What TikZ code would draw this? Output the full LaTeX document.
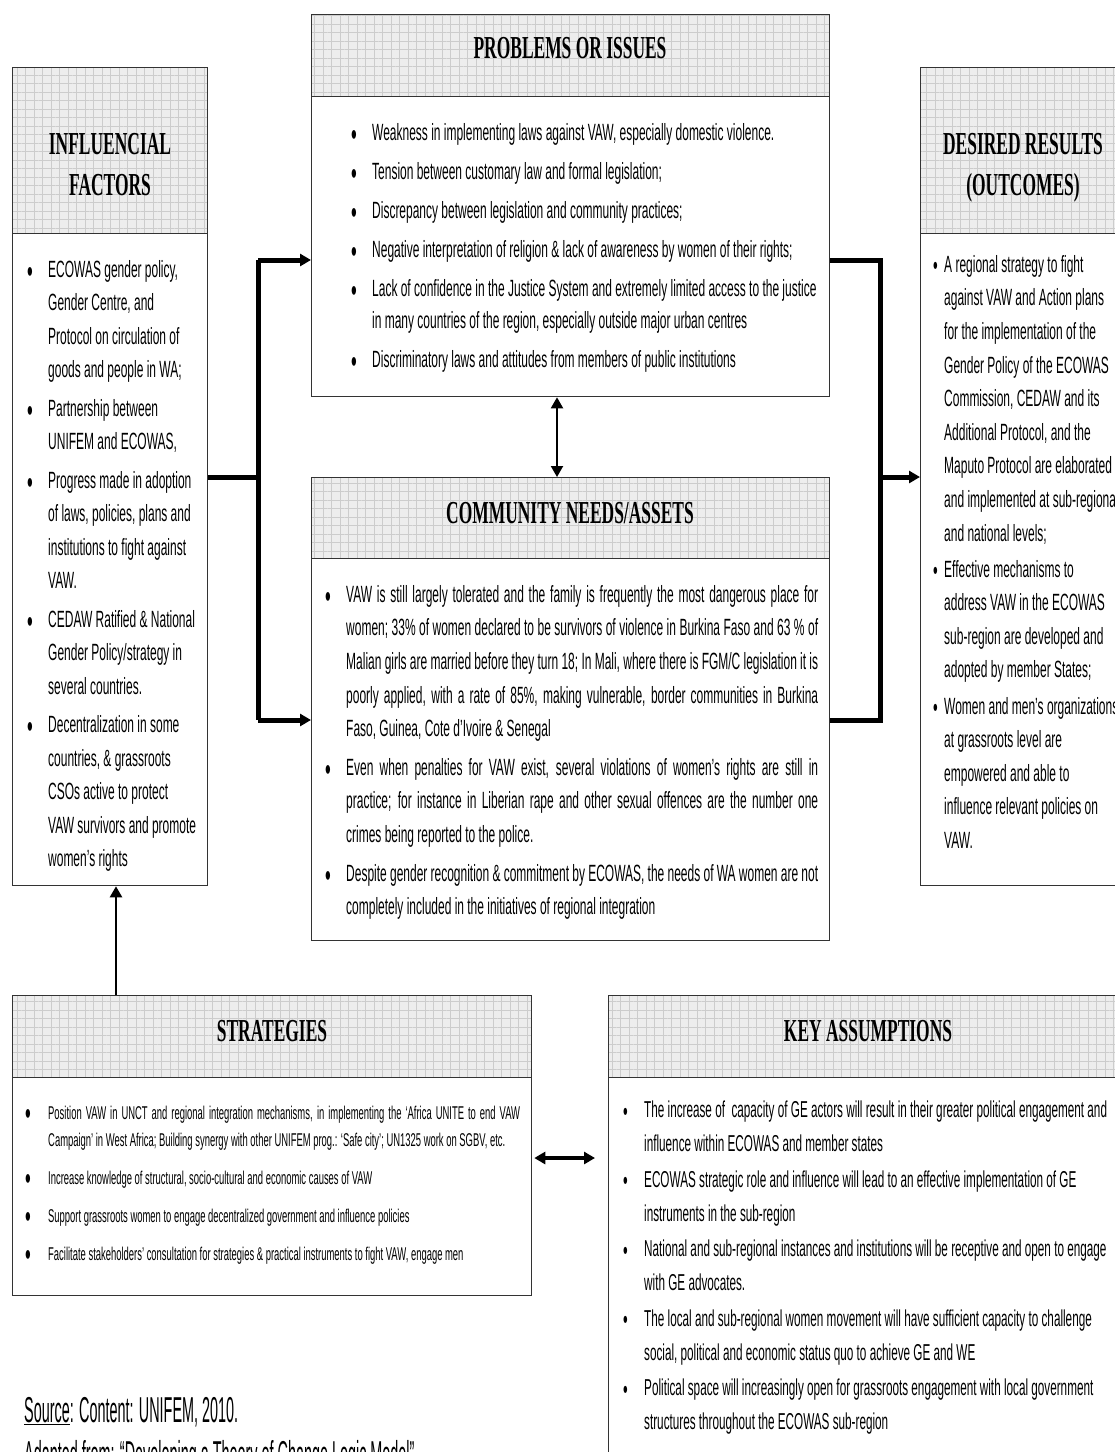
\documentclass[tikz,border=0pt]{standalone}
\usepackage{fontspec}
\usetikzlibrary{arrows.meta,patterns.meta}
\newfontfamily\bodyfont[FakeStretch=0.51]{Liberation Sans}
\newfontfamily\srcfont[FakeStretch=0.4]{Liberation Sans}
\newfontfamily\headfont[FakeStretch=0.545]{Liberation Serif}
\newcommand{\bl}{\raisebox{-5pt}{\fontsize{32}{0}\selectfont\textbullet}}
\newcommand{\sbl}{\raisebox{-2.5pt}{\fontsize{26}{0}\selectfont\textbullet}}
\newcommand{\jl}[1]{\makebox[472pt][s]{#1}}
\tikzset{
  head/.style={draw=black!80, line width=1.3pt, anchor=north west, inner sep=0pt,
    preaction={fill=gray!14}, pattern={Hatch[angle=0,distance=8.5pt,line width=0.5pt]},
    pattern color=gray!40},
  body/.style={draw=black!80, line width=1.3pt, anchor=north west, inner sep=0pt, fill=white},
  title/.style={align=center, inner sep=0pt, font=\headfont\bfseries\fontsize{32}{41}\selectfont},
  txt/.style={anchor=north west, inner sep=0pt, align=left},
  link/.style={line width=5pt},
}
\begin{document}
\begin{tikzpicture}[x=1pt, y=-1pt, >={Triangle[length=11pt,width=12pt]}, line join=miter]
	\useasboundingbox (0,0) rectangle (1115,1452);
	\clip (0,0) rectangle (1115,1452);
	% boxes: header + body
	\node[head, minimum width=195, minimum height=166] (hInf) at (12,67) {};
	\node[body, minimum width=195, minimum height=652] (bInf) at (12,233) {};
	\node[head, minimum width=518, minimum height=82] (hProb) at (311,14) {};
	\node[body, minimum width=518, minimum height=300] (bProb) at (311,96) {};
	\node[head, minimum width=210, minimum height=166] (hRes) at (920,67) {};
	\node[body, minimum width=210, minimum height=652] (bRes) at (920,233) {};
	\node[head, minimum width=518, minimum height=81] (hCom) at (311,477) {};
	\node[body, minimum width=518, minimum height=382] (bCom) at (311,558) {};
	\node[head, minimum width=519, minimum height=82] (hStr) at (12,995) {};
	\node[body, minimum width=519, minimum height=218] (bStr) at (12,1077) {};
	\node[head, minimum width=520, minimum height=82] (hKey) at (608,995) {};
	\node[body, minimum width=520, minimum height=420] (bKey) at (608,1077) {};
	% titles
	\node[title] (tInf) at (110,165) {INFLUENCIAL\\FACTORS};
	\node[title] (tProb) at (570,48) {PROBLEMS OR ISSUES};
	\node[title] (tRes) at (1023,168) {DESIRED RESULTS\\(OUTCOMES)};
	\node[title] (tCom) at (570,513) {COMMUNITY NEEDS/ASSETS};
	\node[title] (tStr) at (272,1031) {STRATEGIES};
	\node[title] (tKey) at (868,1031) {KEY ASSUMPTIONS};
	% texts
	\node[txt, font=\bodyfont\fontsize{23.5}{33.5}\selectfont] (xInf) at (27,253.5) {%
		\begin{tabular}{@{}p{21pt}@{}l@{}}
		\bl & ECOWAS gender policy,\\ & Gender Centre, and\\ & Protocol on circulation of\\ & goods and people in WA;\\[5pt]
		\bl & Partnership between\\ & UNIFEM and ECOWAS,\\[5pt]
		\bl & Progress made in adoption\\ & of laws, policies, plans and\\ & institutions to fight against\\ & VAW.\\[5pt]
		\bl & CEDAW Ratified \& National\\ & Gender Policy/strategy in\\ & several countries.\\[5pt]
		\bl & Decentralization in some\\ & countries, \& grassroots\\ & CSOs active to protect\\ & VAW survivors and promote\\ & women’s rights
		\end{tabular}};
	\node[txt, font=\bodyfont\fontsize{23.5}{32}\selectfont] (xProb) at (351,117.5) {%
		\begin{tabular}{@{}p{21pt}@{}l@{}}
		\bl & Weakness in implementing laws against VAW, especially domestic violence.\\[7pt]
		\bl & Tension between customary law and formal legislation;\\[7pt]
		\bl & Discrepancy between legislation and community practices;\\[7pt]
		\bl & Negative interpretation of religion \& lack of awareness by women of their rights;\\[7pt]
		\bl & Lack of confidence in the Justice System and extremely limited access to the justice\\ & in many countries of the region, especially outside major urban centres\\[7pt]
		\bl & Discriminatory laws and attitudes from members of public institutions
		\end{tabular}};
	\node[txt, font=\bodyfont\fontsize{23.5}{33.6}\selectfont] (xRes) at (933,248.5) {%
		\begin{tabular}{@{}p{11pt}@{}l@{}}
		\sbl & A regional strategy to fight\\ & against VAW and Action plans\\ & for the implementation of the\\ & Gender Policy of the ECOWAS\\ & Commission, CEDAW and its\\ & Additional Protocol, and the\\ & Maputo Protocol are elaborated\\ & and implemented at sub-regional\\ & and national levels;\\[2.5pt]
		\sbl & Effective mechanisms to\\ & address VAW in the ECOWAS\\ & sub-region are developed and\\ & adopted by member States;\\[2.5pt]
		\sbl & Women and men’s organizations\\ & at grassroots level are\\ & empowered and able to\\ & influence relevant policies on\\ & VAW.
		\end{tabular}};
	\node[txt, font=\bodyfont\fontsize{23.5}{33.6}\selectfont] (xCom) at (325,578.5) {%
		\begin{tabular}{@{}p{21pt}@{}l@{}}
		\bl & \jl{VAW is still largely tolerated and the family is frequently the most dangerous place for}\\
		    & \jl{women; 33\% of women declared to be survivors of violence in Burkina Faso and 63 \% of}\\
		    & \jl{Malian girls are married before they turn 18; In Mali, where there is FGM/C legislation it is}\\
		    & \jl{poorly applied, with a rate of 85\%, making vulnerable, border communities in Burkina}\\
		    & Faso, Guinea, Cote d’Ivoire \& Senegal\\[5pt]
		\bl & \jl{Even when penalties for VAW exist, several violations of women’s rights are still in}\\
		    & \jl{practice; for instance in Liberian rape and other sexual offences are the number one}\\
		    & crimes being reported to the police.\\[5pt]
		\bl & \jl{Despite gender recognition \& commitment by ECOWAS, the needs of WA women are not}\\
		    & completely included in the initiatives of regional integration
		\end{tabular}};
	\node[txt, font=\bodyfont\fontsize{18.5}{27}\selectfont] (xStr) at (25,1100.5) {%
		\begin{tabular}{@{}p{23pt}@{}l@{}}
		\bl & \makebox[472pt][s]{Position VAW in UNCT and regional integration mechanisms, in implementing the ‘Africa UNITE to end VAW}\\
		    & Campaign’ in West Africa; Building synergy with other UNIFEM prog.: ‘Safe city’; UN1325 work on SGBV, etc.\\[11pt]
		\bl & Increase knowledge of structural, socio-cultural and economic causes of VAW\\[11pt]
		\bl & Support grassroots women to engage decentralized government and influence policies\\[11pt]
		\bl & Facilitate stakeholders’ consultation for strategies \& practical instruments to fight VAW, engage men
		\end{tabular}};
	\node[txt, font=\bodyfont\fontsize{23}{34}\selectfont] (xKey) at (623,1093.5) {%
		\begin{tabular}{@{}p{21pt}@{}l@{}}
		\sbl & The increase of\ \ capacity of GE actors will result in their greater political engagement and\\ & influence within ECOWAS and member states\\[1.5pt]
		\sbl & ECOWAS strategic role and influence will lead to an effective implementation of GE\\ & instruments in the sub-region\\[1.5pt]
		\sbl & National and sub-regional instances and institutions will be receptive and open to engage\\ & with GE advocates.\\[1.5pt]
		\sbl & The local and sub-regional women movement will have sufficient capacity to challenge\\ & social, political and economic status quo to achieve GE and WE\\[1.5pt]
		\sbl & Political space will increasingly open for grassroots engagement with local government\\ & structures throughout the ECOWAS sub-region
		\end{tabular}};
	% source
	\node[anchor=base west, inner sep=0pt, font=\srcfont\fontsize{36}{36}\selectfont] (src) at (24,1422) {\underline{Source}: Content: UNIFEM, 2010.};
	\node[anchor=base west, inner sep=0pt, font=\srcfont\fontsize{36}{36}\selectfont] (adp) at (24,1466) {Adapted from: “Developing a Theory of Change Logic Model”};
	% connectors
	\coordinate (jl) at (258,477);
	\coordinate (ltop) at (258,260);
	\coordinate (lbot) at (258,720);
	\coordinate (jr) at (880,477);
	\coordinate (rtop) at (880,260);
	\coordinate (rbot) at (880,720);
	\coordinate (vm) at (557,0);
	\coordinate (up) at (116,0);
	\coordinate (hz) at (0,1158);
	\draw[link] (bInf.east |- jl) -- (jl);
	\draw[link] (ltop) -- (lbot);
	\draw[link,->] (ltop) -- (ltop -| bProb.west);
	\draw[link,->] (lbot) -- (lbot -| bCom.west);
	\draw[link] (rtop -| bProb.east) -- (rtop) -- (rbot) -- (rbot -| bCom.east);
	\draw[link,->] (jr) -- (jr -| bRes.west);
	\draw[line width=2pt,<->] (bProb.south -| vm) -- (hCom.north -| vm);
	\draw[line width=2.5pt,->] (hStr.north -| up) -- (bInf.south -| up);
	\draw[line width=4pt,<->,shorten <=2pt,shorten >=13pt] (bStr.east |- hz) -- (bKey.west |- hz);
\end{tikzpicture}
\end{document}
